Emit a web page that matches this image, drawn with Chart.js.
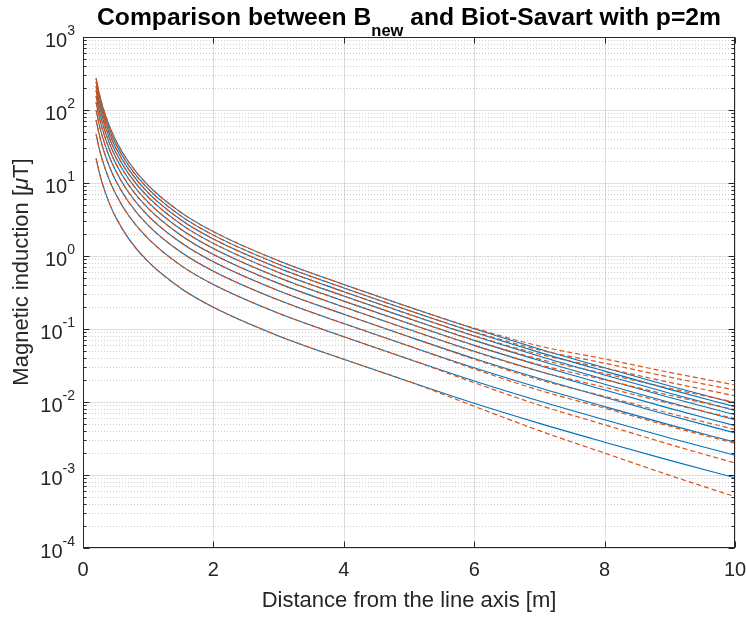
<!DOCTYPE html>
<html>
<head>
<meta charset="utf-8">
<script src="https://cdn.jsdelivr.net/npm/chart.js@4.4.1/dist/chart.umd.min.js"></script>
<style>
  html, body { margin: 0; padding: 0; background: #fff; }
  #wrap { width: 746px; height: 619px; }
</style>
</head>
<body>
<div id="wrap"><canvas id="fieldChart" width="746" height="619"></canvas></div>
<script>
// distance from the line axis [m]
const distances = [0.2, 0.25, 0.3, 0.4, 0.5, 0.7, 1, 1.5, 2, 3, 4, 5, 6, 7, 8, 9, 10];

// B_new [uT], one curve per load level
const bNew1  = [21.78, 13.90, 9.64, 5.383, 3.428, 1.730, 0.8356, 0.3614, 0.1982, 0.08034, 0.03846, 0.01905, 0.009594, 0.005093, 0.002818, 0.001585, 0.000918];
const bNew2  = [46.7, 29.4, 20.2, 11.22, 7.129, 3.581, 1.726, 0.743, 0.4064, 0.1640, 0.07835, 0.03864, 0.01945, 0.01033, 0.005715, 0.003214, 0.001862];
const bNew3  = [72.9, 45.5, 31.2, 17.26, 10.91, 5.483, 2.630, 1.132, 0.6194, 0.2489, 0.1186, 0.05848, 0.02944, 0.01563, 0.00865, 0.004864, 0.002818];
const bNew4  = [100.0, 62.09, 42.46, 23.39, 14.79, 7.413, 3.556, 1.528, 0.8337, 0.3349, 0.1592, 0.07834, 0.03945, 0.02094, 0.01159, 0.006516, 0.003776];
const bNew5  = [127.9, 79.07, 53.95, 29.65, 18.71, 9.376, 4.487, 1.928, 1.052, 0.4216, 0.2000, 0.0984, 0.04955, 0.0263, 0.01456, 0.008185, 0.004742];
const bNew6  = [156.3, 96.16, 65.46, 35.97, 22.70, 11.35, 5.433, 2.328, 1.271, 0.5080, 0.2410, 0.1186, 0.0597, 0.0317, 0.01754, 0.009863, 0.005715];
const bNew7  = [185.4, 113.8, 77.27, 42.36, 26.67, 13.34, 6.383, 2.735, 1.489, 0.5955, 0.2825, 0.1387, 0.06982, 0.03707, 0.02051, 0.01153, 0.006683];
const bNew8  = [214.3, 131.2, 89.13, 48.75, 30.76, 15.35, 7.345, 3.141, 1.710, 0.6838, 0.3243, 0.1589, 0.07998, 0.04246, 0.0235, 0.01321, 0.007656];
const bNew9  = [243.8, 148.9, 101.2, 55.21, 34.75, 17.38, 8.299, 3.548, 1.932, 0.7725, 0.3656, 0.1791, 0.09016, 0.04786, 0.02649, 0.01489, 0.00863];
const bNew10 = [274.2, 167.1, 113.2, 61.80, 38.90, 19.41, 9.268, 3.963, 2.158, 0.8608, 0.4074, 0.1995, 0.1005, 0.05333, 0.02951, 0.0166, 0.009616];

// Biot-Savart reference [uT], same load levels
const bs1  = [21.78, 13.90, 9.64, 5.383, 3.428, 1.730, 0.8356, 0.3614, 0.1982, 0.08034, 0.03846, 0.01905, 0.00875, 0.004046, 0.001995, 0.0009886, 0.0005047];
const bs2  = [46.7, 29.4, 20.2, 11.22, 7.129, 3.581, 1.726, 0.743, 0.4064, 0.1640, 0.07835, 0.03864, 0.01837, 0.009036, 0.004875, 0.002624, 0.001459];
const bs3  = [72.9, 45.5, 31.2, 17.26, 10.91, 5.483, 2.630, 1.132, 0.6194, 0.2489, 0.1186, 0.05848, 0.02838, 0.01449, 0.008241, 0.004656, 0.00271];
const bs4  = [100.0, 62.09, 42.46, 23.39, 14.79, 7.413, 3.556, 1.528, 0.8337, 0.3349, 0.1592, 0.07834, 0.03855, 0.02018, 0.01194, 0.006982, 0.004207];
const bs5  = [127.9, 79.07, 53.95, 29.65, 18.71, 9.376, 4.487, 1.928, 1.052, 0.4216, 0.2000, 0.0984, 0.04898, 0.02618, 0.01592, 0.009572, 0.005916];
const bs6  = [156.3, 96.16, 65.46, 35.97, 22.70, 11.35, 5.433, 2.328, 1.271, 0.5080, 0.2410, 0.1186, 0.05957, 0.03236, 0.02014, 0.01236, 0.007834];
const bs7  = [185.4, 113.8, 77.27, 42.36, 26.67, 13.34, 6.383, 2.735, 1.489, 0.5955, 0.2825, 0.1387, 0.07015, 0.03864, 0.02455, 0.01538, 0.009908];
const bs8  = [214.3, 131.2, 89.13, 48.75, 30.76, 15.35, 7.345, 3.141, 1.710, 0.6838, 0.3243, 0.1589, 0.08091, 0.04508, 0.02917, 0.01854, 0.01216];
const bs9  = [243.8, 148.9, 101.2, 55.21, 34.75, 17.38, 8.299, 3.548, 1.932, 0.7725, 0.3656, 0.1791, 0.09183, 0.05176, 0.03396, 0.02188, 0.01456];
const bs10 = [274.2, 167.1, 113.2, 61.80, 38.90, 19.41, 9.268, 3.963, 2.158, 0.8608, 0.4074, 0.1995, 0.1028, 0.05848, 0.0389, 0.02541, 0.0171];

// axis ranges and tick values
const xTicks = [0, 2, 4, 6, 8, 10];
const yExponents = [-4, -3, -2, -1, 0, 1, 2, 3];

const ink = '#262626';
const fontFamily = '"Liberation Sans", Arial, Helvetica, sans-serif';

function toPoints(values) {
  return values.map((v, i) => ({ x: distances[i], y: v }));
}

const datasets = [];
[bs1, bs2, bs3, bs4, bs5, bs6, bs7, bs8, bs9, bs10].forEach((vals, i) => {
  datasets.push({
    label: 'Biot-Savart ' + (i + 1),
    data: toPoints(vals),
    borderColor: '#D95319',
    borderWidth: 1.2,
    borderDash: [5, 3],
    pointRadius: 0,
    cubicInterpolationMode: 'monotone',
    order: 0
  });
});
[bNew1, bNew2, bNew3, bNew4, bNew5, bNew6, bNew7, bNew8, bNew9, bNew10].forEach((vals, i) => {
  datasets.push({
    label: 'B_new ' + (i + 1),
    data: toPoints(vals),
    borderColor: '#0072BD',
    borderWidth: 1.1,
    pointRadius: 0,
    cubicInterpolationMode: 'monotone',
    order: 1
  });
});

function hLine(ctx, x0, x1, y) {
  ctx.beginPath(); ctx.moveTo(x0, y); ctx.lineTo(x1, y); ctx.stroke();
}
function vLine(ctx, x, y0, y1) {
  ctx.beginPath(); ctx.moveTo(x, y0); ctx.lineTo(x, y1); ctx.stroke();
}

// grid, box, ticks and the text that needs sub/superscripts
const matlabAxes = {
  id: 'matlabAxes',
  beforeDatasetsDraw(chart) {
    const { ctx, chartArea: a, scales: { x, y } } = chart;
    ctx.save();
    ctx.lineWidth = 1;

    // minor y grid, dotted
    ctx.strokeStyle = 'rgba(38,38,38,0.22)';
    ctx.setLineDash([1, 2]);
    for (let e = yExponents[0]; e < yExponents[yExponents.length - 1]; e++) {
      for (let m = 2; m <= 9; m++) {
        const py = Math.round(y.getPixelForValue(m * Math.pow(10, e))) + 0.5;
        hLine(ctx, a.left, a.right, py);
      }
    }

    // major grid, solid
    ctx.setLineDash([]);
    ctx.strokeStyle = 'rgba(38,38,38,0.15)';
    yExponents.forEach(e => {
      const py = Math.round(y.getPixelForValue(Math.pow(10, e))) + 0.5;
      hLine(ctx, a.left, a.right, py);
    });
    xTicks.forEach(t => {
      const px = Math.round(x.getPixelForValue(t)) + 0.5;
      vLine(ctx, px, a.top, a.bottom);
    });
    ctx.restore();
  },
  afterDatasetsDraw(chart) {
    const { ctx, chartArea: a, scales: { x, y } } = chart;
    ctx.save();
    ctx.strokeStyle = ink;
    ctx.lineWidth = 1;
    const L = Math.round(a.left) + 0.5, R = Math.round(a.right) - 0.5;
    const T = Math.round(a.top) + 0.5, B = Math.round(a.bottom) - 0.5;
    ctx.strokeRect(L, T, R - L, B - T);

    // y tick marks on both sides
    for (let e = yExponents[0]; e <= yExponents[yExponents.length - 1]; e++) {
      for (let m = 1; m <= 9; m++) {
        if (e === yExponents[yExponents.length - 1] && m > 1) break;
        const py = Math.round(y.getPixelForValue(m * Math.pow(10, e))) + 0.5;
        const len = m === 1 ? 6 : 3;
        hLine(ctx, L, L + len, py);
        hLine(ctx, R - len, R, py);
      }
    }
    // x tick marks top and bottom
    xTicks.forEach(t => {
      const px = Math.round(x.getPixelForValue(t)) + 0.5;
      vLine(ctx, px, B, B - 6);
      vLine(ctx, px, T, T + 6);
    });

    // y tick labels 10^n
    ctx.fillStyle = ink;
    ctx.textBaseline = 'alphabetic';
    yExponents.forEach(e => {
      const py = y.getPixelForValue(Math.pow(10, e));
      const expText = e < 0 ? '-' + Math.abs(e) : String(e);
      ctx.font = '14px ' + fontFamily;
      const expW = ctx.measureText(expText).width;
      const right = a.left - 8;
      ctx.textAlign = 'left';
      ctx.fillText(expText, right - expW, py - 2);
      ctx.font = '20px ' + fontFamily;
      ctx.textAlign = 'right';
      ctx.fillText('10', right - expW, py + 10);
    });

    // y axis title, the mu set in italics
    ctx.save();
    ctx.translate(22, 272);
    ctx.rotate(-Math.PI / 2);
    ctx.textBaseline = 'middle';
    ctx.textAlign = 'left';
    const yParts = [['Magnetic induction [', ''], ['μ', 'italic '], ['T]', '']];
    let total = 0;
    yParts.forEach(p => {
      ctx.font = p[1] + '22px ' + fontFamily;
      total += ctx.measureText(p[0]).width;
    });
    let yx = -total / 2;
    yParts.forEach(p => {
      ctx.font = p[1] + '22px ' + fontFamily;
      ctx.fillText(p[0], yx, 0);
      yx += ctx.measureText(p[0]).width;
    });
    ctx.restore();

    // title with subscript
    const main1 = 'Comparison between B', sub = 'new', main2 = ' and Biot-Savart with p=2m';
    const bold = 'bold 24.7px ' + fontFamily, subBold = 'bold 16.5px ' + fontFamily;
    ctx.font = bold;
    const w1 = ctx.measureText(main1).width, w2 = ctx.measureText(main2).width;
    ctx.font = subBold;
    const ws = ctx.measureText(sub).width;
    let tx = (a.left + a.right) / 2 - (w1 + ws + w2) / 2;
    ctx.textAlign = 'left';
    ctx.textBaseline = 'alphabetic';
    ctx.fillStyle = '#000';
    ctx.font = bold;
    ctx.fillText(main1, tx, 25);
    tx += w1;
    ctx.font = subBold;
    ctx.fillText(sub, tx, 36);
    tx += ws;
    ctx.font = bold;
    ctx.fillText(main2, tx, 25);
    ctx.restore();
  }
};

new Chart(document.getElementById('fieldChart'), {
  type: 'line',
  data: { datasets },
  options: {
    responsive: false,
    animation: false,
    devicePixelRatio: 1,
    layout: { padding: { top: 37, right: 11, left: 0, bottom: 0 } },
    plugins: { legend: { display: false }, tooltip: { enabled: false } },
    scales: {
      x: {
        type: 'linear',
        min: 0,
        max: 10,
        ticks: {
          stepSize: 2,
          color: ink,
          padding: 10,
          maxRotation: 0,
          font: { family: fontFamily, size: 20 }
        },
        grid: { display: false, drawTicks: false },
        border: { display: false },
        title: {
          display: true,
          text: 'Distance from the line axis [m]',
          color: ink,
          font: { family: fontFamily, size: 22 },
          padding: { top: 0, bottom: 5 }
        },
        afterFit(scale) {
          scale.height = 71;
          scale.paddingLeft = 0;
          scale.paddingRight = 0;
        }
      },
      y: {
        type: 'logarithmic',
        min: 1e-4,
        max: 1e3,
        ticks: { display: false },
        grid: { display: false, drawTicks: false },
        border: { display: false },
        afterFit(scale) {
          scale.width = 83;
          scale.paddingTop = 0;
          scale.paddingBottom = 0;
        }
      }
    }
  },
  plugins: [matlabAxes]
});
</script>
</body>
</html>
